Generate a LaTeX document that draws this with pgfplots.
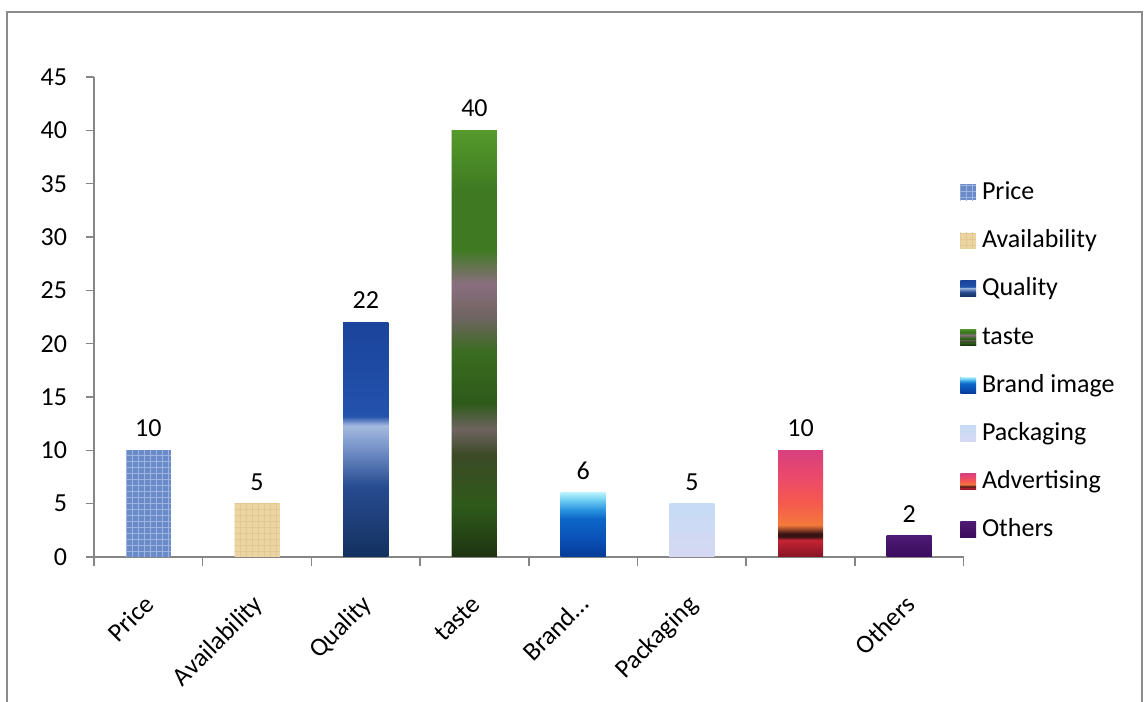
\documentclass[border=0pt]{standalone}
\usepackage{pgfplots}
\pgfplotsset{compat=1.18}
\usepackage{fontspec}
\setmainfont{Carlito}
\usetikzlibrary{patterns}

% frame and axis greys
\definecolor{framegray}{HTML}{8C8C8C}
\definecolor{axisgray}{HTML}{868686}

% Price: woven blue
\definecolor{priceA}{HTML}{6A8BC8}
\definecolor{priceB}{HTML}{9DB4E0}
% Availability: parchment
\definecolor{availA}{HTML}{ECD5A2}
\definecolor{availB}{HTML}{E2C992}
% Quality: blue with a pale band
\definecolor{qualTop}{HTML}{1B449C}
\definecolor{qualUp}{HTML}{2352AC}
\definecolor{qualBand}{HTML}{A4BAE0}
\definecolor{qualMid}{HTML}{6A88C2}
\definecolor{qualLow}{HTML}{274B90}
\definecolor{qualBot}{HTML}{13305E}
% taste: leaves and pink flowers
\definecolor{tasteA}{HTML}{559A2C}
\definecolor{tasteB}{HTML}{3F7A22}
\definecolor{tasteP}{HTML}{8A6E7E}
\definecolor{tasteQ}{HTML}{6E6460}
\definecolor{tasteC}{HTML}{3A6C20}
\definecolor{tasteD}{HTML}{2E5A1A}
\definecolor{tasteE}{HTML}{3C4A26}
\definecolor{tasteF}{HTML}{1E3312}
\definecolor{tasteS}{HTML}{14240C}
% Brand image: sky to deep blue
\definecolor{brandA}{HTML}{B2F0FC}
\definecolor{brandB}{HTML}{74D0F2}
\definecolor{brandC}{HTML}{2A94E0}
\definecolor{brandD}{HTML}{0C66C8}
\definecolor{brandE}{HTML}{0A52B8}
\definecolor{brandF}{HTML}{073A98}
% Packaging: pale lavender blue
\definecolor{packA}{HTML}{C6DBF6}
\definecolor{packB}{HTML}{D6D8F2}
% Advertising: sunset
\definecolor{advA}{HTML}{D8407E}
\definecolor{advB}{HTML}{EC4A6A}
\definecolor{advC}{HTML}{F55A4C}
\definecolor{advD}{HTML}{F47A3C}
\definecolor{advE}{HTML}{3A1414}
\definecolor{advF}{HTML}{C42434}
\definecolor{advG}{HTML}{861424}
% Others: deep purple
\definecolor{othA}{HTML}{4E1A74}
\definecolor{othB}{HTML}{3A0C5E}

% vertical shadings: the path spans 25bp (bottom) to 75bp (top)
\pgfdeclareverticalshading{quality}{100bp}{%
  color(0bp)=(qualBot); color(25bp)=(qualBot); color(40bp)=(qualLow);
  color(47bp)=(qualMid); color(53bp)=(qualBand); color(55bp)=(qualUp);
  color(75bp)=(qualTop); color(100bp)=(qualTop)}
\pgfdeclareverticalshading{taste}{100bp}{%
  color(0bp)=(tasteF); color(25bp)=(tasteF); color(31bp)=(tasteD);
  color(37bp)=(tasteE); color(40bp)=(tasteQ); color(43bp)=(tasteD);
  color(49bp)=(tasteC); color(53bp)=(tasteQ); color(57bp)=(tasteP);
  color(61bp)=(tasteB); color(68bp)=(tasteB); color(75bp)=(tasteA);
  color(100bp)=(tasteA)}
\pgfdeclareverticalshading{brand}{100bp}{%
  color(0bp)=(brandF); color(25bp)=(brandF); color(40bp)=(brandE);
  color(55bp)=(brandD); color(62bp)=(brandC); color(70bp)=(brandB);
  color(75bp)=(brandA); color(100bp)=(brandA)}
\pgfdeclareverticalshading{packaging}{100bp}{%
  color(0bp)=(packB); color(25bp)=(packB);
  color(75bp)=(packA); color(100bp)=(packA)}
\pgfdeclareverticalshading{advert}{100bp}{%
  color(0bp)=(advG); color(25bp)=(advG); color(33bp)=(advF);
  color(34.5bp)=(advE); color(36bp)=(advE); color(40bp)=(advD);
  color(50bp)=(advC); color(62bp)=(advB); color(75bp)=(advA);
  color(100bp)=(advA)}
\pgfdeclareverticalshading{others}{100bp}{%
  color(0bp)=(othB); color(25bp)=(othB);
  color(75bp)=(othA); color(100bp)=(othA)}

\pgfplotsset{
  catbar/.style={ybar, bar width=0.414, bar shift=0pt, draw=none},
}

\begin{document}
\begin{tikzpicture}
\useasboundingbox (0pt,0pt) rectangle (572pt,350.5pt);
% chart frame
\draw[framegray, line width=1pt] (3.5pt,-2pt) -- (3.5pt,344.5pt) -- (571pt,344.5pt) -- (571pt,-2pt);

\begin{axis}[
  at={(47pt,72pt)}, anchor=south west,
  scale only axis, width=434.8pt, height=240pt,
  xmin=-0.5, xmax=7.5, ymin=0, ymax=45,
  axis lines*=left,
  axis line style={draw=axisgray, line width=0.75pt},
  tick style={draw=axisgray, line width=0.75pt},
  tick align=outside, major tick length=4.25pt,
  ytick={0,5,...,45},
  yticklabel style={inner sep=0pt, xshift=-9pt},
  xtick={-0.5,0.5,...,7.5}, xticklabels={},
  extra x ticks={0,...,7},
  extra x tick labels={Price,Availability,Quality,taste,Brand…,Packaging,{},Others},
  extra x tick style={major tick length=0pt,
    xticklabel style={inner sep=0pt, text height=0.75em, text depth=0.25em,
      xshift=1.9pt, yshift=-22.6pt, rotate=45, anchor=east}},
  font=\fontsize{13}{15.6}\selectfont,
  /pgf/number format/assume math mode=true,
  nodes near coords,
  nodes near coords style={anchor=south, inner sep=0pt, yshift=6.5pt, text=black},
  legend style={at={(0.9959,0.78125)}, anchor=north west, draw=none, fill=none,
    inner sep=0pt, row sep=13.1pt, column sep=3pt,
    nodes={inner sep=0pt, text height=8.5pt, text depth=2.5pt, anchor=base west}},
  legend cell align=left,
  legend image code/.code={\path[#1, draw=none] (0pt,-0.5pt) rectangle (7.8pt,7.5pt);},
]
\addplot[catbar, fill=priceA, postaction={pattern=grid, pattern color=priceB}] coordinates {(0,10)};
\addlegendentry{Price}
\addplot[catbar, fill=availA, postaction={pattern=grid, pattern color=availB}] coordinates {(1,5)};
\addlegendentry{Availability}
\addplot[catbar, fill=qualUp, shade, shading=quality] coordinates {(2,22)};
\addlegendentry{Quality}
\addplot[catbar, fill=tasteB, shade, shading=taste, postaction={pattern=vertical lines, pattern color=tasteS}] coordinates {(3,40)};
\addlegendentry{taste}
\addplot[catbar, fill=brandD, shade, shading=brand] coordinates {(4,6)};
\addlegendentry{Brand image}
\addplot[catbar, fill=packA, shade, shading=packaging] coordinates {(5,5)};
\addlegendentry{Packaging}
\addplot[catbar, fill=advC, shade, shading=advert] coordinates {(6,10)};
\addlegendentry{Advertising}
\addplot[catbar, fill=othA, shade, shading=others] coordinates {(7,2)};
\addlegendentry{Others}
\end{axis}
\end{tikzpicture}
\end{document}
